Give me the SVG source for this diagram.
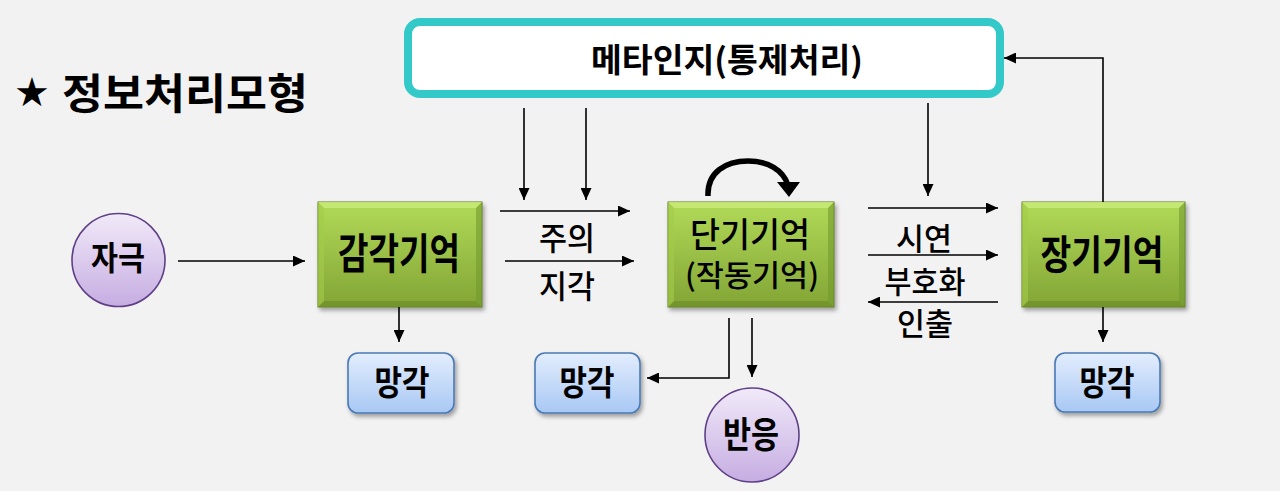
<svg xmlns="http://www.w3.org/2000/svg" width="1280" height="491" viewBox="0 0 1280 491">
<defs>
<style>
.t{font-family:"Noto Sans CJK KR","Noto Sans",sans-serif;fill:#000;text-anchor:middle}
.b{font-weight:700}
.m{font-weight:500}
.c{fill:none;stroke:#000;stroke-width:1.6}
.green{fill:url(#gG);stroke:#5f7d25;stroke-width:1}
.blue{fill:url(#gB);stroke:#4a7ab5;stroke-width:1.6}
.purple{fill:url(#gP);stroke:#5f3f86;stroke-width:1.6}
</style>
<linearGradient id="gG" x1="0" y1="0" x2="0" y2="1"><stop offset="0" stop-color="#b2da58"/><stop offset="1" stop-color="#82a535"/></linearGradient>
<linearGradient id="gB" x1="0" y1="0" x2="0" y2="1"><stop offset="0" stop-color="#e3edfd"/><stop offset="1" stop-color="#a8c8f4"/></linearGradient>
<linearGradient id="gP" x1="0" y1="0" x2="0" y2="1"><stop offset="0" stop-color="#f1eaf9"/><stop offset="1" stop-color="#c6ade2"/></linearGradient>
<filter id="sh" x="-20%" y="-20%" width="140%" height="140%"><feDropShadow dx="2" dy="3" stdDeviation="2" flood-color="#000" flood-opacity="0.35"/></filter>
<marker id="ar" markerUnits="userSpaceOnUse" markerWidth="12" markerHeight="11" refX="12" refY="5.5" orient="auto"><path d="M0,0 L12,5.5 L0,11 z" fill="#000"/></marker>
</defs>
<rect width="1280" height="491" fill="#f2f2f2"/>

<g id="title">
<text x="32" y="106" text-anchor="middle" style="font-family:'DejaVu Sans',sans-serif;font-size:40px">★</text>
<text class="t b" x="185" y="109" font-size="42" textLength="246" lengthAdjust="spacingAndGlyphs">정보처리모형</text>
</g>

<g id="meta">
<rect x="408" y="22" width="592" height="72" rx="12" fill="#ffffff" stroke="#33c9c9" stroke-width="8"/>
<text class="t b" x="727" y="72" font-size="33" textLength="272" lengthAdjust="spacingAndGlyphs">메타인지(통제처리)</text>
</g>

<g id="stimulus">
<circle cx="118.5" cy="260" r="46.5" class="purple"/>
<text class="t b" x="118" y="270" font-size="33" textLength="54" lengthAdjust="spacingAndGlyphs">자극</text>
</g>

<g id="sensory">
<g filter="url(#sh)"><rect x="318" y="202" width="164" height="105" class="green"/></g>
<polygon points="318,202 482,202 476,208 324,208" fill="#c9ec7a" opacity="0.8"/>
<polygon points="318,307 482,307 476,301 324,301" fill="#6d8f2a" opacity="0.7"/>
<polygon points="318,202 324,208 324,301 318,307" fill="#a4cc4a" opacity="0.6"/>
<polygon points="482,202 476,208 476,301 482,307" fill="#739a2e" opacity="0.6"/>
<text class="t b" x="399" y="269" font-size="42" textLength="122" lengthAdjust="spacingAndGlyphs">감각기억</text>
</g>

<g id="shortterm">
<g filter="url(#sh)"><rect x="668" y="202" width="166" height="105" class="green"/></g>
<polygon points="668,202 834,202 828,208 674,208" fill="#c9ec7a" opacity="0.8"/>
<polygon points="668,307 834,307 828,301 674,301" fill="#6d8f2a" opacity="0.7"/>
<polygon points="668,202 674,208 674,301 668,307" fill="#a4cc4a" opacity="0.6"/>
<polygon points="834,202 828,208 828,301 834,307" fill="#739a2e" opacity="0.6"/>
<text class="t m" x="750" y="247" font-size="34" textLength="120" lengthAdjust="spacingAndGlyphs">단기기억</text>
<text class="t m" x="752" y="286" font-size="30" textLength="134" lengthAdjust="spacingAndGlyphs">(작동기억)</text>
</g>

<g id="longterm">
<g filter="url(#sh)"><rect x="1022" y="202" width="163" height="105" class="green"/></g>
<polygon points="1022,202 1185,202 1179,208 1028,208" fill="#c9ec7a" opacity="0.8"/>
<polygon points="1022,307 1185,307 1179,301 1028,301" fill="#6d8f2a" opacity="0.7"/>
<polygon points="1022,202 1028,208 1028,301 1022,307" fill="#a4cc4a" opacity="0.6"/>
<polygon points="1185,202 1179,208 1179,301 1185,307" fill="#739a2e" opacity="0.6"/>
<text class="t b" x="1102" y="269" font-size="40" textLength="123" lengthAdjust="spacingAndGlyphs">장기기억</text>
</g>

<g id="forget1">
<rect x="348" y="353" width="106" height="60" rx="10" class="blue" filter="url(#sh)"/>
<text class="t b" x="402" y="395" font-size="34" textLength="55" lengthAdjust="spacingAndGlyphs">망각</text>
</g>
<g id="forget2">
<rect x="535" y="353" width="105" height="60" rx="10" class="blue" filter="url(#sh)"/>
<text class="t b" x="587" y="395" font-size="34" textLength="55" lengthAdjust="spacingAndGlyphs">망각</text>
</g>
<g id="forget3">
<rect x="1055" y="353" width="105" height="59" rx="10" class="blue" filter="url(#sh)"/>
<text class="t b" x="1107" y="395" font-size="34" textLength="55" lengthAdjust="spacingAndGlyphs">망각</text>
</g>

<g id="response">
<circle cx="752" cy="435" r="47" class="purple"/>
<text class="t b" x="751" y="448" font-size="36" textLength="56" lengthAdjust="spacingAndGlyphs">반응</text>
</g>

<g id="connectors">
<path class="c" d="M178,261 H305" marker-end="url(#ar)"/>
<path class="c" d="M500,211 H630" marker-end="url(#ar)"/>
<path class="c" d="M505,261 H634" marker-end="url(#ar)"/>
<path class="c" d="M524,108 V200" marker-end="url(#ar)"/>
<path class="c" d="M586,108 V200" marker-end="url(#ar)"/>
<path class="c" d="M868,208 H998" marker-end="url(#ar)"/>
<path class="c" d="M868,255 H998" marker-end="url(#ar)"/>
<path class="c" d="M998,302 H868" marker-end="url(#ar)"/>
<path class="c" d="M928,103 V196" marker-end="url(#ar)"/>
<path class="c" d="M1103,202 V58 H1004" marker-end="url(#ar)"/>
<path class="c" d="M399,307 V342" marker-end="url(#ar)"/>
<path class="c" d="M1103,307 V342" marker-end="url(#ar)"/>
<path class="c" d="M729,318 V378 H647" marker-end="url(#ar)"/>
<path class="c" d="M752,318 V377" marker-end="url(#ar)"/>
<path d="M708,196 C707,172 726,161 748,161 C768,161 783,170 788,185" fill="none" stroke="#000" stroke-width="5.5"/>
<polygon points="777,182 800,182 789,197" fill="#000"/>
<text class="t m" x="567" y="250" font-size="32" textLength="56" lengthAdjust="spacingAndGlyphs">주의</text>
<text class="t m" x="567" y="298" font-size="32" textLength="56" lengthAdjust="spacingAndGlyphs">지각</text>
<text class="t m" x="924" y="250" font-size="31" textLength="56" lengthAdjust="spacingAndGlyphs">시연</text>
<text class="t m" x="925" y="293" font-size="31" textLength="81" lengthAdjust="spacingAndGlyphs">부호화</text>
<text class="t m" x="925" y="335" font-size="31" textLength="56" lengthAdjust="spacingAndGlyphs">인출</text>
</g>
</svg>
